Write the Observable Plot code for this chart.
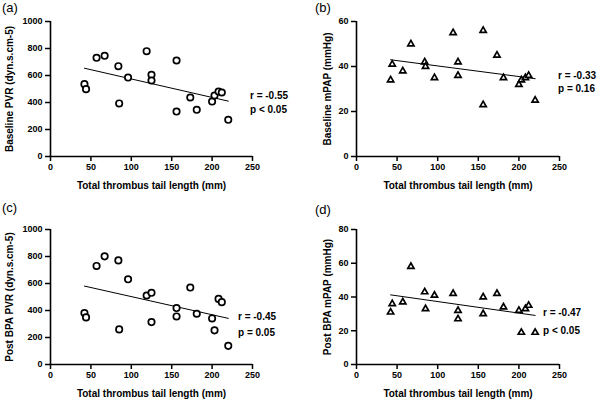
<!DOCTYPE html>
<html>
<head>
<meta charset="utf-8">
<script src="https://cdn.jsdelivr.net/npm/d3@7"></script>
<script src="https://cdn.jsdelivr.net/npm/@observablehq/plot@0.6"></script>
<style>
  html, body { margin: 0; padding: 0; background: #fff; }
  #wrap { position: relative; width: 600px; height: 402px; overflow: hidden;
          font-family: "Liberation Sans", Arial, Helvetica, sans-serif; }
  .panel { position: absolute; }
  .tag { position: absolute; font-size: 13px; line-height: 14px; color: #000; }
  .stat { position: absolute; font-size: 10px; font-weight: bold; line-height: 12px; color: #000; white-space: nowrap; }
</style>
</head>
<body>
<div id="wrap"></div>
<script>
// ---- data ----
const tailLength = [42, 44, 57, 67, 84, 85, 96, 119, 125, 125, 156, 156, 173, 181, 200, 203, 208, 212, 220];
const baselinePVR = [536, 499, 731, 746, 669, 393, 585, 780, 605, 563, 711, 333, 437, 346, 407, 452, 481, 474, 272];
const baselineMPAP = [34, 41, 38, 50, 42, 40, 35, 55, 42, 36, 56, 23, 45, 35, 32, 34, 35, 36, 25];
const postPVR = [381, 349, 730, 801, 771, 260, 631, 511, 531, 314, 418, 356, 570, 376, 341, 253, 486, 462, 138];
const postMPAP = [31, 36, 37, 58, 43, 33, 41, 42, 32, 27, 40, 30, 42, 34, 32, 19, 33, 35, 19];

const xTicks = [0, 50, 100, 150, 200, 250];
const pvrTicks = [0, 200, 400, 600, 800, 1000];
const mpapTicksA = [0, 20, 40, 60];
const mpapTicksB = [0, 20, 40, 60, 80];

const xTitle = "Total thrombus tail length (mm)";
const panelTags = ["(a)", "(b)", "(c)", "(d)"];
const yTitles = ["Baseline PVR (dyn.s.cm-5)", "Baseline mPAP (mmHg)", "Post BPA PVR (dyn.s.cm-5)", "Post BPA mPAP (mmHg)"];
const statsText = [["r = -0.55", "p < 0.05"], ["r = -0.33", "p = 0.16"], ["r = -0.45", "p = 0.05"], ["r = -0.47", "p < 0.05"]];

const wrap = document.getElementById("wrap");
const fmt = d => String(d);

function panel(cfg) {
  const rows = tailLength.map((x, i) => ({x, y: cfg.values[i]}));
  const symbol = cfg.symbol;
  const plot = Plot.plot({
    width: 300,
    height: cfg.height,
    marginLeft: cfg.ml,
    marginRight: cfg.mr,
    marginTop: cfg.mt,
    marginBottom: cfg.mb,
    style: {fontFamily: '"Liberation Sans", Arial, Helvetica, sans-serif', fontSize: "9px", fontWeight: "bold", color: "#000", background: "transparent", overflow: "visible"},
    x: {domain: [0, 250]},
    y: {domain: cfg.ydomain},
    marks: [
      Plot.axisX({ticks: xTicks, tickFormat: fmt, tickSize: 5, tickPadding: 2, label: null, strokeWidth: 1.5, fill: "#000"}),
      Plot.axisY({ticks: cfg.yticks, tickFormat: fmt, tickSize: 5, tickPadding: 3, label: null, strokeWidth: 1.5, fill: "#000"}),
      Plot.ruleY([cfg.ydomain[0]], {stroke: "#000", strokeWidth: 1.6}),
      Plot.ruleX([0], {stroke: "#000", strokeWidth: 1.6}),
      Plot.linearRegressionY(rows, {x: "x", y: "y", ci: 0, stroke: "#000", strokeWidth: 1}),
      Plot.dot(rows, {x: "x", y: "y", symbol: symbol, r: symbol === "circle" ? 3.2 : 2.3, stroke: "#000", strokeWidth: 1.7, fill: "#fff"}),
      Plot.text([xTitle], {frameAnchor: "bottom", dy: cfg.xTitleDy, textAnchor: "middle", lineAnchor: "middle", fontSize: 10, fontWeight: "bold", fill: "#000"}),
      Plot.text([cfg.ytitle], {frameAnchor: "left", dx: cfg.yTitleDx, rotate: -90, textAnchor: "middle", lineAnchor: "middle", fontSize: 10, fontWeight: "bold", fill: "#000"})
    ]
  });
  const div = document.createElement("div");
  div.className = "panel";
  div.style.left = cfg.left + "px";
  div.style.top = cfg.top + "px";
  div.appendChild(plot);
  wrap.appendChild(div);

  const tag = document.createElement("div");
  tag.className = "tag";
  tag.textContent = cfg.tag;
  tag.style.left = cfg.tagPos[0] + "px";
  tag.style.top = cfg.tagPos[1] + "px";
  wrap.appendChild(tag);

  cfg.stats.forEach((s, i) => {
    const d = document.createElement("div");
    d.className = "stat";
    d.textContent = s;
    d.style.left = cfg.statPos[0] + "px";
    d.style.top = (cfg.statPos[i + 1] - 6) + "px";
    wrap.appendChild(d);
  });
}

panel({values: baselinePVR, symbol: "circle", ydomain: [0, 1000], yticks: pvrTicks, ytitle: yTitles[0], tag: panelTags[0], stats: statsText[0],
  left: 0, top: 0, height: 200, ml: 50, mr: 48, mt: 21, mb: 44, xTitleDy: 29, yTitleDx: -41,
  tagPos: [2, 1], statPos: [250, 96, 110]});
panel({values: baselineMPAP, symbol: "triangle", ydomain: [0, 60], yticks: mpapTicksA, ytitle: yTitles[1], tag: panelTags[1], stats: statsText[1],
  left: 300, top: 0, height: 200, ml: 56, mr: 41, mt: 21, mb: 44, xTitleDy: 29, yTitleDx: -29,
  tagPos: [315, 1], statPos: [558, 76, 89]});
panel({values: postPVR, symbol: "circle", ydomain: [0, 1000], yticks: pvrTicks, ytitle: yTitles[2], tag: panelTags[2], stats: statsText[2],
  left: 0, top: 200, height: 202, ml: 50, mr: 48, mt: 29, mb: 38, xTitleDy: 29, yTitleDx: -41,
  tagPos: [2, 201], statPos: [238, 317, 333]});
panel({values: postMPAP, symbol: "triangle", ydomain: [0, 80], yticks: mpapTicksB, ytitle: yTitles[3], tag: panelTags[3], stats: statsText[3],
  left: 300, top: 200, height: 202, ml: 56, mr: 41, mt: 29, mb: 38, xTitleDy: 29, yTitleDx: -29,
  tagPos: [315, 203], statPos: [543, 313, 331]});
</script>
</body>
</html>
